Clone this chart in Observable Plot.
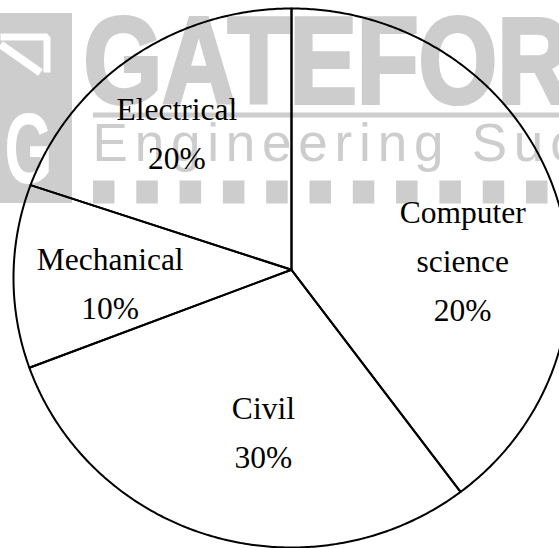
<!DOCTYPE html>
<html>
<head>
<meta charset="utf-8">
<script src="https://cdn.jsdelivr.net/npm/d3@7"></script>
<script src="https://cdn.jsdelivr.net/npm/@observablehq/plot@0.6"></script>
<style>
  html, body { margin: 0; padding: 0; background: #fff; overflow: hidden; }
  #chart svg { display: block; }
</style>
</head>
<body>
<div id="chart"></div>
<script>
// ---- data ----
const categories = ["Computer science", "Civil", "Mechanical", "Electrical"];
const labelNames = ["Computer\nscience", "Civil", "Mechanical", "Electrical"];
const shares = [39.6, 30.0, 11.0, 19.4];            // slice sizes as drawn
const percentLabels = ["20%", "30%", "10%", "20%"]; // percentages as printed
const watermarkTitle = "GATEFORUM";
const watermarkSubtitle = "Engineering Success";

// ---- layout ----
const W = 559, H = 548;
const C = {x: 291, y: 277.5}, RX = 278, RY = 269.5;
const HUB = {x: 291, y: 269.3};
const LABEL_R = 0.62;
const labelNudge = {
  "Computer science": [8, 31.5], "Civil": [21, -10.5], "Mechanical": [-9, 2], "Electrical": [-16, -12]
};
const gray = "#cdcdcd";

const table = categories.map((c, i) => ({category: c, value: shares[i], name: labelNames[i], pct: percentLabels[i]}));
const arcs = d3.pie().sort(null).value(d => d.value)(table);

const outline = [];
const labels = [];
for (const a of arcs) {
  const cat = a.data.category;
  outline.push({cat, x: HUB.x, y: HUB.y});
  const n = Math.max(2, Math.ceil((a.endAngle - a.startAngle) / (Math.PI / 360)));
  for (let k = 0; k <= n; ++k) {
    const t = a.startAngle + (a.endAngle - a.startAngle) * k / n;
    outline.push({cat, x: C.x + RX * Math.sin(t), y: C.y - RY * Math.cos(t)});
  }
  outline.push({cat, x: HUB.x, y: HUB.y});
  const mid = (a.startAngle + a.endAngle) / 2;
  const [ndx, ndy] = labelNudge[cat];
  labels.push({
    text: a.data.name + "\n" + a.data.pct,
    x: C.x + RX * LABEL_R * Math.sin(mid) + ndx,
    y: C.y - RY * LABEL_R * Math.cos(mid) + ndy
  });
}

const svg = Plot.plot({
  width: W, height: H,
  margin: 0, marginTop: 0, marginRight: 0, marginBottom: 0, marginLeft: 0,
  x: {domain: [0, W], range: [0, W], axis: null},
  y: {domain: [0, H], range: [0, H], axis: null},
  style: {background: "#fff"},
  marks: [
    // watermark
    Plot.rect([0], {x1: 0, x2: 72, y1: 13, y2: 203, fill: gray}),
    Plot.line([{x: 0, y: 36.5}, {x: 46.5, y: 36.5}, {x: 46.5, y: 72}], {x: "x", y: "y", stroke: "#fff", strokeWidth: 7, strokeLinecap: "butt", strokeLinejoin: "miter"}),
    Plot.line([{x: 0, y: 44}, {x: 40, y: 72}], {x: "x", y: "y", stroke: "#fff", strokeWidth: 8, strokeLinecap: "butt"}),
    Plot.text(["G"], {x: 4, y: 182, text: d => d, textAnchor: "start", lineAnchor: "bottom", fontSize: 100, fontWeight: "bold", fontFamily: "Liberation Sans, Arial, sans-serif", fill: "#fff"}),
    Plot.text([watermarkTitle], {x: 83, y: 102, text: d => d, textAnchor: "start", lineAnchor: "bottom", fontSize: 122, fontWeight: "bold", fontFamily: "Liberation Sans Narrow, Liberation Sans, Arial, sans-serif", fill: gray, stroke: gray, strokeWidth: 4, strokeLinejoin: "miter"}),
    Plot.ruleY([114.5], {x1: 93, x2: W, stroke: gray, strokeWidth: 5}),
    Plot.text([watermarkSubtitle], {x: 92, y: 160, text: d => d, textAnchor: "start", lineAnchor: "bottom", fontSize: 53, fontFamily: "Liberation Sans, Arial, sans-serif", fill: gray}),
    Plot.ruleY([191.5], {x1: 93, x2: W, stroke: gray, strokeWidth: 23, strokeDasharray: "21.5,21.8"}),
    // pie
    Plot.line(outline, {x: "x", y: "y", z: "cat", stroke: "#000", strokeWidth: 2, curve: "linear"}),
    Plot.text(labels, {x: "x", y: "y", text: "text", textAnchor: "middle", lineAnchor: "middle", lineHeight: 1.556, fontSize: 31.5, fontFamily: "Liberation Serif, Times New Roman, serif", fill: "#000"})
  ]
});

const root = d3.select(svg);
root.selectAll("text").filter(function () { return this.textContent === watermarkTitle; })
  .attr("textLength", 644).attr("lengthAdjust", "spacingAndGlyphs");
root.selectAll("text").filter(function () { return this.textContent === "G"; })
  .attr("textLength", 48).attr("lengthAdjust", "spacingAndGlyphs");
root.selectAll("text").filter(function () { return this.textContent === watermarkSubtitle; })
  .style("letter-spacing", "6.8px");

document.getElementById("chart").appendChild(svg);
</script>
</body>
</html>
